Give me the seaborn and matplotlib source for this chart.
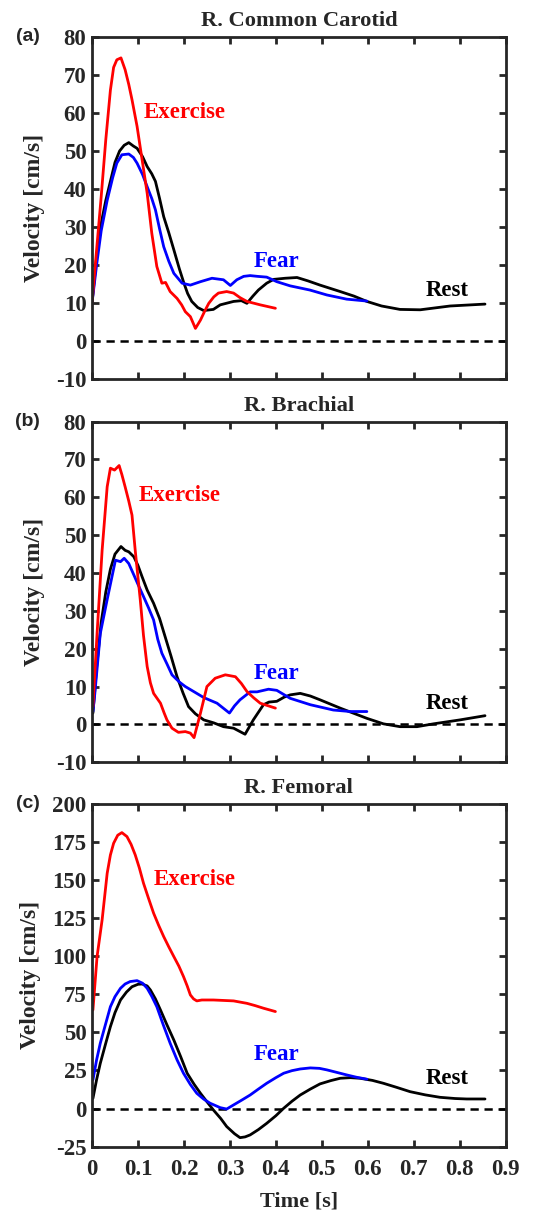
import numpy as np
import pandas as pd
import matplotlib
matplotlib.use("Agg")
import matplotlib.pyplot as plt
import seaborn as sns

# ---- R. Common Carotid ----
car_rest_t = [0, 0.01, 0.02, 0.03, 0.04, 0.05, 0.06, 0.07, 0.08, 0.09, 0.098, 0.11, 0.12, 0.13, 0.138, 0.147, 0.156,
              0.167, 0.178, 0.19, 0.2, 0.208, 0.217, 0.23, 0.243, 0.264, 0.279, 0.308, 0.325, 0.337, 0.35, 0.362,
              0.38, 0.395, 0.42, 0.446, 0.47, 0.496, 0.54, 0.57, 0.598, 0.63, 0.67, 0.714, 0.779, 0.855]
car_rest_v = [10, 22, 31, 37, 42, 47, 50, 51.5, 52.2, 51.3, 50.7, 48.5, 45.9, 44, 42, 37.5, 32.7,
              28.5, 24, 19, 15.2, 12.5, 10.4, 8.8, 8, 8.3, 9.5, 10.4, 10.6, 9.9, 11.8, 13.4,
              15.2, 16.2, 16.5, 16.7, 15.8, 14.7, 13, 11.8, 10.4, 9.2, 8.3, 8.2, 9.2, 9.7]
car_fear_t = [0, 0.01, 0.02, 0.033, 0.045, 0.054, 0.065, 0.08, 0.09, 0.098, 0.11, 0.12, 0.13, 0.138, 0.147, 0.156,
              0.167, 0.178, 0.196, 0.214, 0.236, 0.261, 0.286, 0.301, 0.315, 0.33, 0.344, 0.36, 0.38, 0.402,
              0.431, 0.474, 0.511, 0.554, 0.598]
car_fear_v = [10, 20, 29, 37, 43, 46.8, 49, 49.2, 48.3, 46.8, 43.8, 40.6, 37.5, 34.5, 29.5, 24.8,
              21, 17.8, 15.2, 14.7, 15.6, 16.5, 16.1, 14.6, 16.1, 17, 17.2, 17, 16.8, 15.6,
              14.5, 13.4, 12.1, 11, 10.5]
car_ex_t = [0, 0.01, 0.02, 0.03, 0.04, 0.047, 0.054, 0.063, 0.072, 0.08, 0.087, 0.098, 0.109, 0.12, 0.13, 0.141,
            0.152, 0.16, 0.17, 0.185, 0.195, 0.203, 0.214, 0.225, 0.236, 0.245, 0.254, 0.265, 0.275, 0.293,
            0.308, 0.322, 0.337, 0.366, 0.399]
car_ex_v = [10, 24, 38, 53, 66, 72, 74, 74.5, 71.4, 67.5, 63.5, 56.5, 47.7, 38.9, 28.4, 19.6,
            15.2, 15.4, 13, 11.2, 9.5, 7.7, 6.4, 3.3, 5.5, 7.8, 9.9, 11.6, 12.6, 13,
            12.6, 11.4, 10.4, 9.5, 8.6]

# ---- R. Brachial ----
bra_rest_t = [0.002, 0.01, 0.02, 0.03, 0.04, 0.05, 0.063, 0.072, 0.08, 0.091, 0.1, 0.109, 0.12, 0.134, 0.147, 0.159,
              0.172, 0.185, 0.198, 0.21, 0.225, 0.243, 0.265, 0.286, 0.308, 0.333, 0.351, 0.373, 0.385, 0.402,
              0.418, 0.431, 0.453, 0.475, 0.496, 0.54, 0.598, 0.634, 0.67, 0.707, 0.743, 0.801, 0.855]
bra_rest_v = [3, 15, 27, 35, 41, 45, 47, 46, 45.6, 44.3, 42, 39, 35.5, 32, 28, 23.2,
              18, 12.6, 8.3, 4.7, 2.8, 1.2, 0.4, -0.6, -1, -2.6, 1.2, 5.2, 5.9, 6.1,
              7.2, 7.8, 8.2, 7.5, 6.5, 4.3, 1.6, 0.15, -0.6, -0.6, 0.15, 1.2, 2.3]
bra_fear_t = [0.002, 0.006, 0.018, 0.033, 0.051, 0.062, 0.07, 0.08, 0.091, 0.1, 0.112, 0.123, 0.134, 0.143, 0.152,
              0.163, 0.174, 0.19, 0.203, 0.221, 0.243, 0.272, 0.299, 0.31, 0.322, 0.344, 0.359, 0.384, 0.402,
              0.431, 0.475, 0.525, 0.562, 0.598]
bra_fear_v = [3.4, 8, 24, 33, 43.4, 43, 43.9, 42.5, 39.5, 37, 33.8, 30.8, 27.6, 22.5, 18.8,
              16, 13.1, 11.2, 10, 8.7, 7.1, 5.6, 3, 4.9, 6.5, 8.6, 8.6, 9.3, 9,
              6.9, 5.2, 3.8, 3.4, 3.4]
bra_ex_t = [0.002, 0.011, 0.022, 0.033, 0.04, 0.049, 0.059, 0.065, 0.072, 0.08, 0.087, 0.094, 0.105, 0.112, 0.12,
            0.127, 0.134, 0.149, 0.157, 0.163, 0.174, 0.188, 0.203, 0.214, 0.222, 0.236, 0.25, 0.268, 0.29,
            0.312, 0.325, 0.337, 0.352, 0.366, 0.399]
bra_ex_v = [4.7, 24, 46, 62.8, 67.7, 67.2, 68.4, 66, 62.8, 59, 55.3, 46, 32.9, 23.5, 15.3,
            11, 8.2, 5.6, 3, 1.2, -1, -2.1, -1.9, -2.3, -3.5, 3, 10, 12.2, 13.1,
            12.6, 10.8, 8.7, 7, 5.6, 4.3]

# ---- R. Femoral ----
fem_rest_t = [0.002, 0.01, 0.018, 0.03, 0.04, 0.05, 0.062, 0.075, 0.087, 0.1, 0.109, 0.12, 0.127, 0.138, 0.149,
              0.163, 0.178, 0.193, 0.207, 0.222, 0.236, 0.25, 0.264, 0.28, 0.293, 0.31, 0.322, 0.333, 0.344, 0.362,
              0.38, 0.4, 0.417, 0.435, 0.453, 0.475, 0.496, 0.52, 0.54, 0.562, 0.583, 0.61, 0.634, 0.662, 0.692,
              0.725, 0.757, 0.79, 0.815, 0.855]
fem_rest_v = [6.7, 19, 29.7, 43, 53.8, 63, 71.3, 76.5, 80, 81.6, 81.8, 80.5, 77.9, 72, 64.7,
              55, 45, 34, 23.2, 16, 10, 4.5, -0.9, -6.5, -11.8, -16.5, -19.1, -18.6, -17.3, -13.8,
              -9.7, -4.7, 0.2, 4.8, 8.9, 12.8, 16.2, 18.4, 19.9, 20.3, 19.9, 18.5, 16.6, 14, 11.1,
              9, 7.4, 6.6, 6.3, 6.3]
fem_fear_t = [0.002, 0.01, 0.018, 0.03, 0.04, 0.05, 0.062, 0.072, 0.083, 0.098, 0.11, 0.12, 0.13, 0.141, 0.155,
              0.17, 0.185, 0.199, 0.214, 0.228, 0.243, 0.257, 0.279, 0.293, 0.308, 0.326, 0.344, 0.362, 0.38,
              0.4, 0.417, 0.435, 0.453, 0.475, 0.495, 0.511, 0.532, 0.554, 0.575, 0.598]
fem_fear_v = [18.8, 32, 42.9, 56, 66.9, 73.5, 79, 81.8, 83.4, 84, 82.3, 79, 73.7, 66.9, 55,
              42.9, 32, 23.2, 15.8, 10, 6.2, 3.5, 0.6, -0.3, 2.4, 5.6, 8.9, 12.8, 16.6,
              20.3, 23.2, 24.9, 26, 26.7, 26.4, 25.4, 23.8, 22.1, 20.6, 19.3]
fem_ex_t = [0.002, 0.011, 0.022, 0.033, 0.04, 0.047, 0.056, 0.065, 0.076, 0.085, 0.094, 0.103, 0.112, 0.123, 0.134,
            0.145, 0.156, 0.167, 0.178, 0.189, 0.199, 0.207, 0.214, 0.221, 0.228, 0.239, 0.264, 0.308, 0.337,
            0.355, 0.373, 0.399]
fem_ex_v = [64.7, 99.8, 123.9, 154.5, 166.5, 174.2, 179.5, 181.2, 178.6, 173.5, 166.6, 158, 148, 138, 128.3,
            120.3, 112.9, 106.2, 99.8, 93.5, 86.7, 80.6, 74.6, 72, 70.7, 71.3, 71.3, 70.7, 69.1,
            67.6, 65.9, 63.7]

conditions = ["Rest", "Fear", "Exercise"]
palette = {"Rest": "#000000", "Fear": "#0000ff", "Exercise": "#ff0000"}

panels = [
    {"tag": "(a)", "title": "R. Common Carotid",
     "series": [(car_rest_t, car_rest_v), (car_fear_t, car_fear_v), (car_ex_t, car_ex_v)],
     "ylim": (-10, 80), "yticks": list(range(-10, 81, 10)),
     "labels": [(0.725, 13.4), (0.351, 21.0), (0.112, 60.1)]},
    {"tag": "(b)", "title": "R. Brachial",
     "series": [(bra_rest_t, bra_rest_v), (bra_fear_t, bra_fear_v), (bra_ex_t, bra_ex_v)],
     "ylim": (-10, 80), "yticks": list(range(-10, 81, 10)),
     "labels": [(0.725, 5.4), (0.351, 13.4), (0.101, 60.4)]},
    {"tag": "(c)", "title": "R. Femoral",
     "series": [(fem_rest_t, fem_rest_v), (fem_fear_t, fem_fear_v), (fem_ex_t, fem_ex_v)],
     "ylim": (-25, 200), "yticks": list(range(-25, 201, 25)),
     "labels": [(0.725, 19.9), (0.351, 35.2), (0.134, 150.6)]},
]

xticks = [0, 0.1, 0.2, 0.3, 0.4, 0.5, 0.6, 0.7, 0.8, 0.9]
xtick_labels = ["0", "0.1", "0.2", "0.3", "0.4", "0.5", "0.6", "0.7", "0.8", "0.9"]

sns.set_style("ticks")
plt.rcParams["font.family"] = ["Liberation Serif", "DejaVu Serif"]
plt.rcParams["font.weight"] = "bold"
plt.rcParams["axes.linewidth"] = 2.0

fig = plt.figure(figsize=(5.48, 12.13), dpi=100)
boxes = [(0.1679, 0.6876, 0.7549, 0.2819),
         (0.1679, 0.3716, 0.7549, 0.2808),
         (0.1679, 0.0547, 0.7549, 0.2825)]

for box, p in zip(boxes, panels):
    ax = fig.add_axes(box)
    frames = []
    for cond, (t, v) in zip(conditions, p["series"]):
        frames.append(pd.DataFrame({"Time": t, "Velocity": v, "Condition": cond}))
    df = pd.concat(frames, ignore_index=True)
    sns.lineplot(data=df, x="Time", y="Velocity", hue="Condition", palette=palette,
                 units="Condition", estimator=None, sort=False, linewidth=2.0,
                 legend=False, ax=ax)
    ax.axhline(0, color="black", linestyle=(0, (3.3, 2.3)), linewidth=1.8, zorder=1)
    ax.set_xlim(0, 0.9)
    ax.set_ylim(*p["ylim"])
    ax.set_yticks(p["yticks"])
    ax.set_yticklabels([str(y) for y in p["yticks"]], fontsize=16.5, fontweight="bold")
    ax.set_xticks(xticks)
    if p["tag"] == "(c)":
        ax.set_xticklabels(xtick_labels, fontsize=16.5, fontweight="bold")
        ax.set_xlabel("Time [s]", fontsize=16, fontweight="bold", labelpad=8)
    else:
        ax.set_xticklabels([])
        ax.set_xlabel("")
    ax.set_ylabel("Velocity [cm/s]", fontsize=17, fontweight="bold", labelpad=8)
    ax.tick_params(direction="in", length=5, width=2, top=True, right=True)
    ax.tick_params(axis="x", pad=9)
    ax.tick_params(axis="y", pad=4)
    ax.set_title(p["title"], fontsize=16.2, fontweight="bold", pad=8)
    for cond, (lx, ly) in zip(conditions, p["labels"]):
        ax.text(lx, ly, cond, color=palette[cond], fontsize=16.5, fontweight="bold",
                ha="left", va="center")
    ax.text(-0.125, 1.0, p["tag"], transform=ax.transAxes, fontsize=14,
            fontweight="bold", family=["Liberation Sans", "DejaVu Sans"], ha="right", va="center")
    for s in ax.spines.values():
        s.set_linewidth(2.0)

fig.savefig("out.png", dpi=100)
